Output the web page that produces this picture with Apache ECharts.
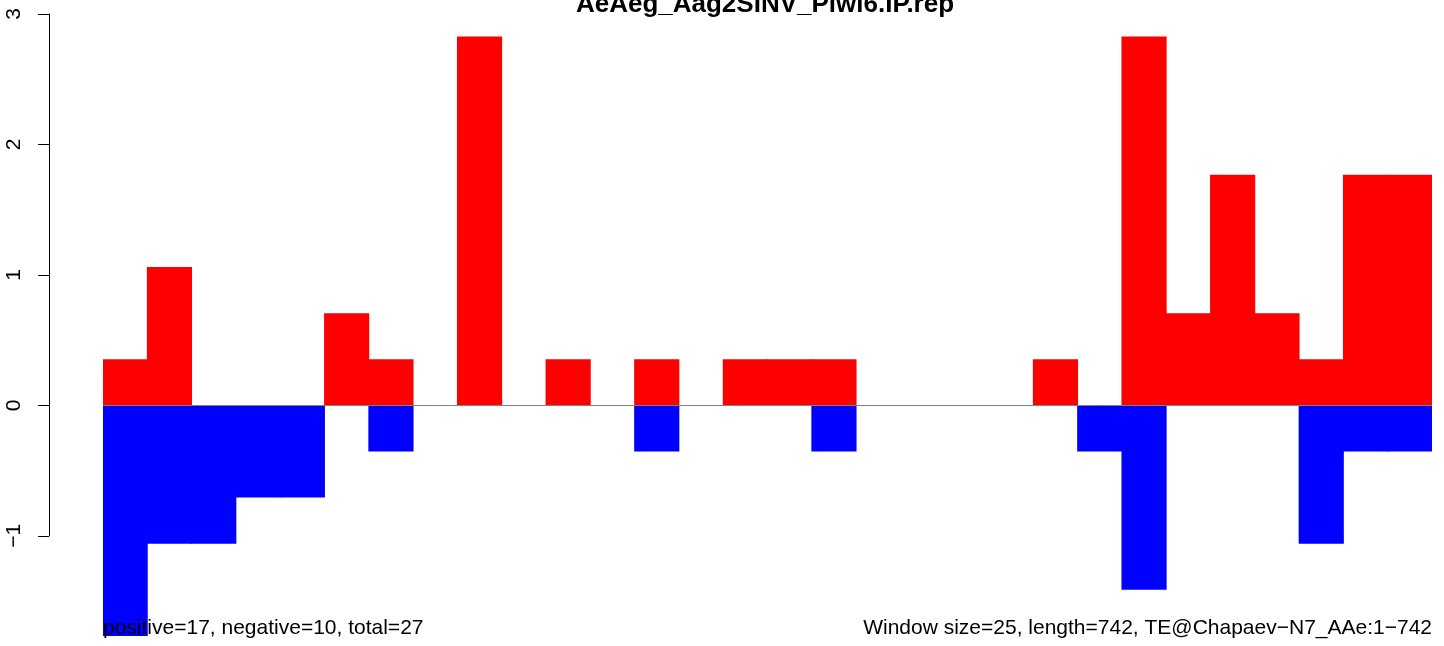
<!DOCTYPE html>
<html>
<head>
<meta charset="utf-8">
<script src="https://cdn.jsdelivr.net/npm/echarts@6/dist/echarts.min.js"></script>
<style>html,body{margin:0;padding:0;background:#fff;}#c{width:1444px;height:646px;}</style>
</head>
<body>
<div id="c"></div>
<script>
// Window bins along the TE (30 windows)
var categories = ['1','2','3','4','5','6','7','8','9','10','11','12','13','14','15','16','17','18','19','20','21','22','23','24','25','26','27','28','29','30'];
// Positive-strand values (red)
var posValues = [0.354,1.061,0,0,0,0.707,0.354,0,2.828,0,0.354,0,0.354,0,0.354,0.354,0.354,0,0,0,0,0.354,0,2.828,0.707,1.768,0.707,0.354,1.768,1.768];
// Negative-strand values (blue)
var negValues = [-1.768,-1.061,-1.061,-0.707,-0.707,0,-0.354,0,0,0,0,0,-0.354,0,0,0,-0.354,0,0,0,0,0,-0.354,-1.414,0,0,0,-1.061,-0.354,-0.354];
// Y tick labels
var yTicks = [-1,0,1,2,3];
var titleText = 'AeAeg_Aag2SINV_Piwi6.IP.rep';
var leftNote = 'positive=17, negative=10, total=27';
var rightNote = 'Window size=25, length=742, TE@Chapaev\u2212N7_AAe:1\u2212742';

var FONT = '"Liberation Sans", Arial, Helvetica, sans-serif';
var yMin = -1.768, yMax = 3;
var gridTop = 14, gridBottom = 10;
var plotH = 646 - gridTop - gridBottom;
var pxPerUnit = plotH / (yMax - yMin);

function nz(arr) { return arr.map(function (v) { return v === 0 ? '-' : v; }); }

var chart = echarts.init(document.getElementById('c'));
chart.setOption({
  animation: false,
  backgroundColor: '#ffffff',
  grid: [
    {left: 103, right: 12, top: gridTop, bottom: gridBottom, containLabel: false},
    {left: 49, top: gridTop, width: 10, height: (yTicks[yTicks.length-1] - yTicks[0]) * pxPerUnit, containLabel: false}
  ],
  xAxis: [
    {type: 'category', gridIndex: 0, data: categories, boundaryGap: true, show: false},
    {type: 'value', gridIndex: 1, show: false, min: 0, max: 1}
  ],
  yAxis: [
    {type: 'value', gridIndex: 0, min: yMin, max: yMax, show: false},
    {type: 'value', gridIndex: 1, min: yTicks[0], max: yTicks[yTicks.length-1], interval: 1,
     axisLine: {show: true, lineStyle: {color: '#000', width: 1}},
     axisTick: {show: true, length: 11, lineStyle: {color: '#000', width: 1}},
     splitLine: {show: false},
     axisLabel: {show: true, rotate: 90, margin: 24, color: '#000', fontSize: 21, fontFamily: FONT,
       formatter: function (v) { return String(v).replace('-', '\u2212'); }}
    }
  ],
  series: [
    {type: 'line', xAxisIndex: 0, yAxisIndex: 0, data: [], z: 1, silent: true,
     markLine: {symbol: 'none', silent: true, label: {show: false},
       lineStyle: {color: '#808080', width: 1, type: 'solid'}, data: [{yAxis: 0}]}},
    {type: 'bar', name: 'positive', xAxisIndex: 0, yAxisIndex: 0, data: nz(posValues),
     barWidth: '102%', barGap: '-100%', itemStyle: {color: '#ff0000'}, z: 3},
    {type: 'bar', name: 'negative', xAxisIndex: 0, yAxisIndex: 0, data: nz(negValues),
     barWidth: '102%', barGap: '-100%', itemStyle: {color: '#0000ff'}, z: 3}
  ],
  graphic: [
    {type: 'text', z: 100, x: 765, y: 5,
     style: {text: titleText, fill: '#000', font: 'bold 26px ' + FONT, align: 'center', verticalAlign: 'middle'}},
    {type: 'text', z: 100, x: 103, y: 628,
     style: {text: leftNote, fill: '#000', font: '21px ' + FONT, align: 'left', verticalAlign: 'middle'}},
    {type: 'text', z: 100, x: 1432, y: 628,
     style: {text: rightNote, fill: '#000', font: '21px ' + FONT, align: 'right', verticalAlign: 'middle'}}
  ]
});
</script>
</body>
</html>
